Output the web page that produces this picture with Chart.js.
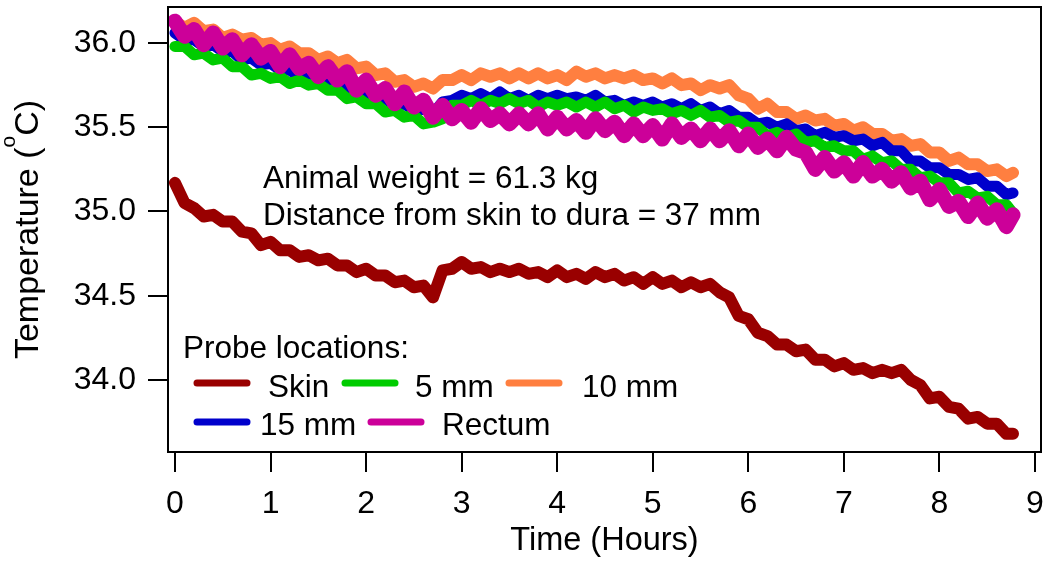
<!DOCTYPE html>
<html>
<head>
<meta charset="utf-8">
<script src="https://cdn.jsdelivr.net/npm/chart.js@4.4.1/dist/chart.umd.min.js"></script>
<style>
html,body{margin:0;padding:0;background:#fff;}
canvas{display:block;}
</style>
</head>
<body>
<canvas id="c" width="1050" height="565"></canvas>
<script>
// ---------- data ----------
const hours = [
  0.0,0.1,0.2,0.3,0.4,0.5,0.6,0.7,0.8,0.9,
  1.0,1.1,1.2,1.3,1.4,1.5,1.6,1.7,1.8,1.9,
  2.0,2.1,2.2,2.3,2.4,2.5,2.6,2.7,2.8,2.9,
  3.0,3.1,3.2,3.3,3.4,3.5,3.6,3.7,3.8,3.9,
  4.0,4.1,4.2,4.3,4.4,4.5,4.6,4.7,4.8,4.9,
  5.0,5.1,5.2,5.3,5.4,5.5,5.6,5.7,5.8,5.9,
  6.0,6.1,6.2,6.3,6.4,6.5,6.6,6.7,6.8,6.9,
  7.0,7.1,7.2,7.3,7.4,7.5,7.6,7.7,7.8,7.9,
  8.0,8.1,8.2,8.3,8.4,8.5,8.6,8.7,8.77
];
const skin = [
  35.17,35.05,35.02,34.97,34.98,34.94,34.94,34.88,34.87,34.80,
  34.82,34.77,34.77,34.73,34.74,34.71,34.72,34.68,34.68,34.64,
  34.66,34.62,34.62,34.58,34.59,34.55,34.56,34.49,34.65,34.66,
  34.70,34.66,34.67,34.64,34.66,34.64,34.66,34.63,34.64,34.61,
  34.65,34.61,34.63,34.60,34.64,34.61,34.63,34.59,34.61,34.57,
  34.61,34.57,34.59,34.55,34.58,34.55,34.57,34.52,34.49,34.38,
  34.36,34.28,34.26,34.21,34.21,34.17,34.18,34.12,34.12,34.08,
  34.10,34.06,34.07,34.04,34.06,34.04,34.06,34.00,33.97,33.89,
  33.90,33.84,33.83,33.77,33.78,33.74,33.74,33.68,33.68
];
const mm5 = [
  35.98,35.98,35.93,35.94,35.90,35.91,35.86,35.86,35.81,35.82,
  35.79,35.80,35.76,35.78,35.75,35.76,35.72,35.72,35.67,35.68,
  35.64,35.64,35.59,35.60,35.56,35.57,35.52,35.53,35.55,35.63,
  35.63,35.66,35.63,35.66,35.64,35.67,35.64,35.66,35.62,35.65,
  35.63,35.65,35.62,35.65,35.62,35.65,35.61,35.63,35.59,35.62,
  35.60,35.61,35.58,35.60,35.57,35.60,35.56,35.57,35.53,35.54,
  35.50,35.50,35.45,35.47,35.44,35.46,35.41,35.42,35.38,35.39,
  35.36,35.36,35.31,35.33,35.29,35.30,35.25,35.25,35.20,35.21,
  35.17,35.17,35.11,35.12,35.08,35.09,35.04,35.04,34.99
];
const mm10 = [
  36.13,36.09,36.12,36.07,36.08,36.03,36.05,36.02,36.03,35.99,
  36.00,35.96,35.98,35.94,35.94,35.90,35.92,35.88,35.90,35.85,
  35.86,35.81,35.82,35.77,35.78,35.74,35.76,35.73,35.78,35.78,
  35.81,35.78,35.82,35.80,35.82,35.79,35.82,35.79,35.82,35.79,
  35.81,35.78,35.83,35.80,35.82,35.79,35.81,35.79,35.81,35.78,
  35.79,35.76,35.79,35.75,35.76,35.72,35.75,35.73,35.75,35.69,
  35.67,35.61,35.64,35.59,35.59,35.55,35.57,35.54,35.55,35.51,
  35.52,35.48,35.50,35.46,35.46,35.42,35.43,35.39,35.40,35.35,
  35.35,35.30,35.32,35.28,35.28,35.24,35.25,35.21,35.23
];
const mm15 = [
  36.06,36.02,36.02,35.98,35.99,35.95,35.95,35.90,35.91,35.87,
  35.88,35.84,35.84,35.80,35.82,35.77,35.77,35.73,35.74,35.70,
  35.71,35.67,35.67,35.63,35.64,35.60,35.61,35.58,35.65,35.66,
  35.69,35.67,35.70,35.67,35.71,35.67,35.69,35.66,35.69,35.67,
  35.69,35.67,35.68,35.66,35.69,35.65,35.66,35.63,35.65,35.63,
  35.65,35.62,35.64,35.61,35.64,35.60,35.62,35.58,35.60,35.56,
  35.56,35.52,35.53,35.50,35.52,35.48,35.49,35.45,35.47,35.44,
  35.45,35.42,35.43,35.39,35.41,35.36,35.36,35.30,35.30,35.26,
  35.26,35.22,35.22,35.19,35.20,35.15,35.15,35.10,35.11
];
const rectum = [
  36.13,36.04,36.08,35.99,36.06,35.97,36.02,35.93,35.99,35.91,
  35.95,35.86,35.93,35.85,35.88,35.80,35.86,35.78,35.83,35.72,
  35.78,35.69,35.73,35.64,35.71,35.62,35.66,35.56,35.63,35.55,
  35.60,35.53,35.61,35.54,35.58,35.52,35.58,35.52,35.58,35.49,
  35.56,35.49,35.54,35.47,35.55,35.48,35.53,35.45,35.52,35.45,
  35.51,35.43,35.52,35.44,35.49,35.42,35.49,35.42,35.48,35.39,
  35.46,35.38,35.43,35.36,35.44,35.37,35.35,35.25,35.32,35.24,
  35.29,35.21,35.29,35.21,35.25,35.18,35.23,35.14,35.18,35.07,
  35.13,35.03,35.06,34.97,35.05,34.96,35.01,34.91,34.98
];
const seriesLabels = ['Skin', '5 mm', '10 mm', '15 mm', 'Rectum'];
const xTicks = [0, 1, 2, 3, 4, 5, 6, 7, 8, 9];
const yTicks = [34.0, 34.5, 35.0, 35.5, 36.0];
const xTitle = 'Time (Hours)';
const yTitleParts = ['Temperature (', 'o', 'C)'];
const legendTitle = 'Probe locations:';
const notes = ['Animal weight = 61.3 kg', 'Distance from skin to dura = 37 mm'];

// ---------- styling ----------
const FONT = '"Liberation Sans", Arial, sans-serif';
const colors = ['#990000', '#00cc00', '#ff7f40', '#0000cc', '#cc0099'];
const widths = [12, 11, 12, 11, 15];
const drawOrder = [4, 1, 3, 2, 0]; // lower = drawn on top
const seriesValues = [skin, mm5, mm10, mm15, rectum];

const datasets = seriesValues.map((vals, i) => ({
  label: seriesLabels[i],
  data: hours.map((h, k) => ({x: h, y: vals[k]})),
  borderColor: colors[i],
  backgroundColor: colors[i],
  borderWidth: widths[i],
  borderJoinStyle: 'round',
  borderCapStyle: 'round',
  pointRadius: 0,
  tension: 0,
  fill: false,
  order: drawOrder[i]
}));

// legend entry layout (pixel positions)
const legendSlots = [
  {lx: 197, ly: 383, tx: 268, ty: 397},
  {lx: 345, ly: 383, tx: 415, ty: 397},
  {lx: 509, ly: 383, tx: 582, ty: 397},
  {lx: 197, ly: 422, tx: 260, ty: 435},
  {lx: 371, ly: 422, tx: 442, ty: 435}
];

const decorPlugin = {
  id: 'decor',
  afterDatasetsDraw(chart) {
    const ctx = chart.ctx;
    const a = chart.chartArea;
    ctx.save();
    ctx.strokeStyle = '#000';
    ctx.lineWidth = 2;
    ctx.strokeRect(a.left, a.top, a.right - a.left, a.bottom - a.top);
    ctx.fillStyle = '#000';
    ctx.font = '31.5px ' + FONT;
    ctx.textAlign = 'left';
    ctx.textBaseline = 'alphabetic';
    ctx.fillText(notes[0], 263, 188);
    ctx.fillText(notes[1], 263, 225);
    ctx.fillText(legendTitle, 183, 358);
    chart.data.datasets.forEach((ds, i) => {
      const s = legendSlots[i];
      ctx.strokeStyle = ds.borderColor;
      ctx.lineWidth = 7;
      ctx.lineCap = 'round';
      ctx.beginPath();
      ctx.moveTo(s.lx, s.ly);
      ctx.lineTo(s.lx + 50, s.ly);
      ctx.stroke();
      ctx.fillStyle = '#000';
      ctx.fillText(ds.label, s.tx, s.ty);
    });
    ctx.textAlign = 'center';
    ctx.font = '32.5px ' + FONT;
    ctx.fillText(xTitle, (a.left + a.right) / 2, 550);
    // y title with superscript "o"
    ctx.translate(38, (a.top + a.bottom) / 2);
    ctx.rotate(-Math.PI / 2);
    const mainFont = '34px ' + FONT, supFont = '21px ' + FONT;
    ctx.font = mainFont;
    const w0 = ctx.measureText(yTitleParts[0]).width;
    const w2 = ctx.measureText(yTitleParts[2]).width;
    ctx.font = supFont;
    const w1 = ctx.measureText(yTitleParts[1]).width;
    let x = -(w0 + w1 + w2) / 2;
    ctx.textAlign = 'left';
    ctx.font = mainFont; ctx.fillText(yTitleParts[0], x, 0); x += w0;
    ctx.font = supFont; ctx.fillText(yTitleParts[1], x, -23); x += w1;
    ctx.font = mainFont; ctx.fillText(yTitleParts[2], x, 0);
    ctx.restore();
  }
};

new Chart(document.getElementById('c'), {
  type: 'line',
  data: { datasets },
  options: {
    responsive: false,
    animation: false,
    events: [],
    layout: { padding: { top: 7, right: 9, left: 0, bottom: 0 } },
    plugins: { legend: { display: false }, tooltip: { enabled: false }, title: { display: false } },
    scales: {
      x: {
        type: 'linear',
        min: -0.073,
        max: 9.063,
        afterBuildTicks: (s) => { s.ticks = xTicks.map(v => ({value: v})); },
        afterFit: (s) => { s.height = 113; s.paddingLeft = 0; s.paddingRight = 0; },
        border: { display: false },
        grid: { display: true, drawOnChartArea: false, drawTicks: true, tickLength: 20, color: '#000', lineWidth: 2 },
        ticks: { color: '#000', font: { family: FONT, size: 32 }, padding: 13, maxRotation: 0, autoSkip: false,
                 callback: (v) => String(v) }
      },
      y: {
        type: 'linear',
        min: 33.572,
        max: 36.214,
        afterBuildTicks: (s) => { s.ticks = yTicks.map(v => ({value: v})); },
        afterFit: (s) => { s.width = 168; s.paddingTop = 0; s.paddingBottom = 0; },
        border: { display: false },
        grid: { display: true, drawOnChartArea: false, drawTicks: true, tickLength: 20, color: '#000', lineWidth: 2 },
        ticks: { color: '#000', font: { family: FONT, size: 32 }, padding: 12, autoSkip: false,
                 callback: (v) => Number(v).toFixed(1) }
      }
    }
  },
  plugins: [decorPlugin]
});
</script>
</body>
</html>
